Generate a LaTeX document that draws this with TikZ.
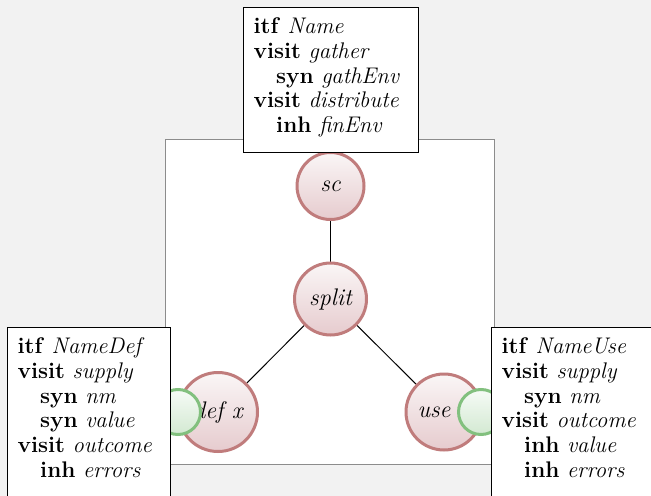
\documentclass[tikz,border=0pt]{standalone}
\usetikzlibrary{backgrounds}

\definecolor{pagebg}{HTML}{F2F2F2}
\definecolor{framegray}{HTML}{8C8C8C}
\definecolor{nodeborder}{HTML}{C07C7C}
\definecolor{nodetop}{HTML}{FAF6F6}
\definecolor{nodebottom}{HTML}{E6CBCE}
\definecolor{portborder}{HTML}{82C07E}
\definecolor{porttop}{HTML}{F6FBF6}
\definecolor{portbottom}{HTML}{D3E9D2}

\newcommand{\boxfont}{\fontsize{11.3pt}{12.4pt}\selectfont}
\newcommand{\circfont}{\fontsize{12pt}{14pt}\selectfont\itshape}
\newcommand{\ind}{\hspace*{1em}}
\newcommand{\lastline}{\rule[-5pt]{0pt}{5pt}}

\tikzset{
  every node/.style={font=\boxfont},
  prodnode/.style={circle, draw=nodeborder, line width=1.5pt,
    top color=nodetop, bottom color=nodebottom, inner sep=0pt,
    font=\circfont},
  portnode/.style={circle, draw=portborder, line width=1.5pt,
    top color=porttop, bottom color=portbottom, inner sep=0pt,
    minimum size=22.5pt},
  itfbox/.style={draw=black, line width=0.6pt, fill=white, align=left,
    inner xsep=5pt, inner ysep=5pt, anchor=north west},
  treeedge/.style={draw=black, line width=0.5pt}
}

\begin{document}
\begin{tikzpicture}[x=0.5pt, y=-0.5pt]
  \useasboundingbox (0,0) rectangle (651,496);
  \clip (0,0) rectangle (651,496);

  % production tree
  \node[prodnode, minimum size=33.5pt] (sc) at (330.5,186) {sc};
  \node[prodnode, minimum size=36pt] (split) at (330.5,299) {split};
  \node[prodnode, minimum size=39.5pt] (defx) at (218,412) {def x};
  \node[prodnode, minimum size=38pt] (use) at (444,412) {use\hspace*{10pt}};

  \begin{scope}[on background layer]
    % page and production frame
    \fill[pagebg] (0,0) rectangle (651,496);
    \draw[framegray, fill=white, line width=0.5pt] (165,140) rectangle (494,464);
    % tree edges
    \draw[treeedge] (sc) -- (split);
    \draw[treeedge] (split) -- (defx);
    \draw[treeedge] (split) -- (use);
  \end{scope}

  % interface ports
  \node[portnode] (defport) at (178,412) {};
  \node[portnode] (useport) at (481,412) {};

  % interface descriptions
  \node[itfbox, text width=77.5pt] (itfname) at (243,7) {%
    \textbf{itf} \textit{Name}\\
    \textbf{visit} \textit{gather}\\
    \ind\textbf{syn} \textit{gathEnv}\\
    \textbf{visit} \textit{distribute}\\
    \ind\textbf{inh} \textit{finEnv}\lastline};

  \node[itfbox, text width=71.5pt] (itfdef) at (7,327) {%
    \textbf{itf} \textit{NameDef}\\
    \textbf{visit} \textit{supply}\\
    \ind\textbf{syn} \textit{nm}\\
    \ind\textbf{syn} \textit{value}\\
    \textbf{visit} \textit{outcome}\\
    \ind\textbf{inh} \textit{errors}\lastline};

  \node[itfbox, text width=72pt] (itfuse) at (491,327) {%
    \textbf{itf} \textit{NameUse}\\
    \textbf{visit} \textit{supply}\\
    \ind\textbf{syn} \textit{nm}\\
    \textbf{visit} \textit{outcome}\\
    \ind\textbf{inh} \textit{value}\\
    \ind\textbf{inh} \textit{errors}\lastline};
\end{tikzpicture}
\end{document}
